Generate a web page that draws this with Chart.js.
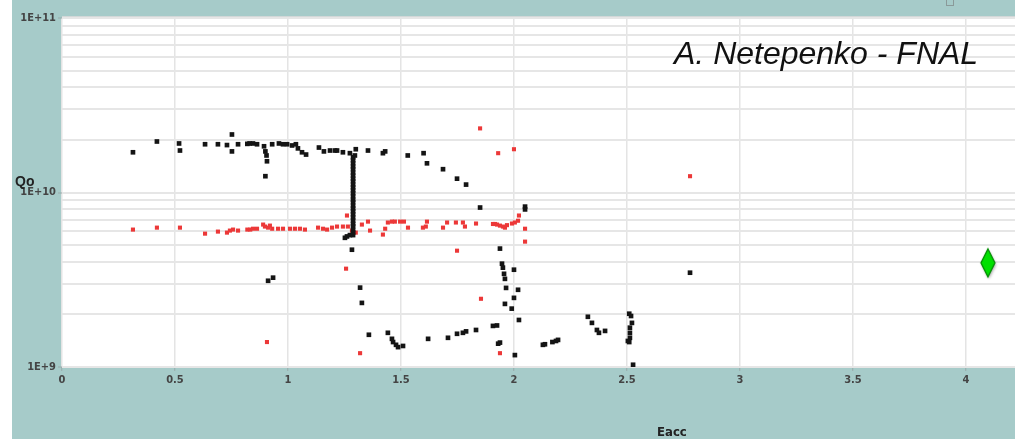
<!DOCTYPE html>
<html>
<head>
<meta charset="utf-8">
<script src="https://cdn.jsdelivr.net/npm/chart.js@4"></script>
<style>
  body { margin: 0; background: #fff; }
  #wrap { width: 1015px; height: 439px; }
</style>
</head>
<body>
<div id="wrap"><canvas id="qChart" width="1015" height="439"></canvas></div>
<script>
// Black series (Eacc, Qo)
const blackEacc = [
  0.314, 0.420, 0.518, 0.522, 0.633, 0.690, 0.730, 0.752, 0.752, 0.779,
  0.820, 0.830, 0.845, 0.863, 0.894, 0.900, 0.905, 0.907, 0.900, 0.930,
  0.960, 0.978, 0.996, 1.018, 1.035, 1.044, 1.062, 1.080, 1.137, 1.159,
  1.186, 1.208, 1.217, 1.243, 1.274, 1.296, 1.300,
  1.288, 1.288, 1.288, 1.288, 1.288, 1.288, 1.288, 1.288, 1.288, 1.288,
  1.288, 1.288, 1.288, 1.288, 1.288, 1.288, 1.288, 1.288, 1.288, 1.288,
  1.288, 1.288, 1.288, 1.288, 1.288, 1.288, 1.288,
  1.252, 1.261, 1.274, 1.283, 1.354, 1.420, 1.430, 1.530, 1.600, 1.615,
  1.686, 1.748, 1.788, 1.850, 2.049, 2.049, 1.938, 1.947, 1.951, 1.956,
  1.960, 1.965, 1.960, 1.990, 2.000, 2.000, 2.018, 2.022, 2.004, 1.930,
  1.938, 1.907, 1.925, 1.832, 1.774, 1.788, 1.748, 1.708, 1.620, 1.509,
  1.487, 1.478, 1.465, 1.460, 1.442, 1.358, 1.327, 1.319, 2.128, 2.137,
  2.170, 2.186, 2.195, 2.327, 2.345, 2.367, 2.376, 2.403, 2.510, 2.518,
  2.522, 2.513, 2.513, 2.513, 2.504, 2.510, 2.527, 2.779, 0.912, 0.934
];
const blackQo = [
  1.70e10, 1.96e10, 1.91e10, 1.74e10, 1.89e10, 1.89e10, 1.87e10, 2.15e10, 1.72e10, 1.89e10,
  1.90e10, 1.91e10, 1.91e10, 1.89e10, 1.84e10, 1.72e10, 1.63e10, 1.51e10, 1.24e10, 1.89e10,
  1.91e10, 1.89e10, 1.89e10, 1.86e10, 1.89e10, 1.79e10, 1.70e10, 1.65e10, 1.81e10, 1.72e10,
  1.74e10, 1.74e10, 1.74e10, 1.70e10, 1.68e10, 1.63e10, 1.77e10,
  1.59e10, 1.53e10, 1.47e10, 1.41e10, 1.36e10, 1.30e10, 1.25e10, 1.20e10, 1.16e10, 1.11e10,
  1.07e10, 1.03e10, 9.9e9, 9.5e9, 9.1e9, 8.8e9, 8.4e9, 8.1e9, 7.8e9, 7.5e9,
  7.2e9, 6.9e9, 6.6e9, 6.4e9, 6.1e9, 5.9e9, 5.7e9,
  5.5e9, 5.6e9, 5.7e9, 4.7e9, 1.74e10, 1.68e10, 1.72e10, 1.63e10, 1.68e10, 1.47e10,
  1.36e10, 1.20e10, 1.11e10, 8.2e9, 8.3e9, 8.0e9, 4.77e9, 3.91e9, 3.71e9, 3.42e9,
  3.20e9, 2.84e9, 2.30e9, 2.16e9, 3.61e9, 2.49e9, 2.77e9, 1.86e9, 1.17e9, 1.36e9,
  1.38e9, 1.72e9, 1.73e9, 1.63e9, 1.57e9, 1.60e9, 1.55e9, 1.47e9, 1.45e9, 1.32e9,
  1.30e9, 1.34e9, 1.39e9, 1.45e9, 1.57e9, 1.53e9, 2.33e9, 2.85e9, 1.34e9, 1.35e9,
  1.39e9, 1.41e9, 1.43e9, 1.94e9, 1.79e9, 1.63e9, 1.57e9, 1.61e9, 2.02e9, 1.96e9,
  1.79e9, 1.68e9, 1.57e9, 1.47e9, 1.41e9, 1.39e9, 1.03e9, 3.47e9, 3.12e9, 3.25e9
];

// Red series (Eacc, Qo)
const redEacc = [
  0.314, 0.420, 0.522, 0.633, 0.690, 0.730, 0.743, 0.757, 0.779, 0.820,
  0.833, 0.845, 0.863, 0.890, 0.898, 0.912, 0.920, 0.930, 0.956, 0.978,
  1.009, 1.031, 1.053, 1.075, 1.133, 1.155, 1.173, 1.195, 1.217, 1.243,
  1.265, 1.261, 1.283, 1.300, 1.327, 1.354, 1.363, 1.420, 1.430, 1.442,
  1.460, 1.473, 1.496, 1.513, 1.531, 1.597, 1.610, 1.615, 1.686, 1.704,
  1.743, 1.774, 1.783, 1.832, 1.907, 1.916, 1.925, 1.938, 1.951, 1.960,
  1.969, 1.991, 2.004, 2.018, 2.022, 2.049, 2.049, 1.748, 1.257, 1.319,
  0.907, 1.850, 1.930, 2.000, 1.854, 1.938, 2.779
];
const redQo = [
  6.13e9, 6.29e9, 6.29e9, 5.81e9, 5.97e9, 5.89e9, 6.05e9, 6.13e9, 6.05e9, 6.13e9,
  6.13e9, 6.20e9, 6.20e9, 6.55e9, 6.38e9, 6.29e9, 6.46e9, 6.20e9, 6.20e9, 6.20e9,
  6.20e9, 6.20e9, 6.20e9, 6.13e9, 6.29e9, 6.20e9, 6.13e9, 6.29e9, 6.38e9, 6.38e9,
  6.38e9, 7.38e9, 6.05e9, 5.89e9, 6.55e9, 6.81e9, 6.05e9, 5.74e9, 6.20e9, 6.73e9,
  6.81e9, 6.81e9, 6.81e9, 6.81e9, 6.29e9, 6.29e9, 6.38e9, 6.81e9, 6.29e9, 6.73e9,
  6.73e9, 6.73e9, 6.38e9, 6.64e9, 6.60e9, 6.60e9, 6.55e9, 6.46e9, 6.38e9, 6.29e9,
  6.50e9, 6.64e9, 6.73e9, 6.89e9, 7.38e9, 6.20e9, 5.23e9, 4.64e9, 3.66e9, 1.20e9,
  1.39e9, 2.33e10, 1.68e10, 1.77e10, 2.46e9, 1.20e9, 1.24e10
];

// Green marker
const markerEacc = [4.097];
const markerQo = [3.9e9];

// Axis ticks
const xTickValues = [0, 0.5, 1, 1.5, 2, 2.5, 3, 3.5, 4];
const xTickLabels = ['0', '0.5', '1', '1.5', '2', '2.5', '3', '3.5', '4'];
const yTickValues = [1e9, 1e10, 1e11];
const yTickLabels = ['1E+9', '1E+10', '1E+11'];

const TEAL = '#a6cbc9';
const tickFont = { family: "'Liberation Sans Narrow', 'DejaVu Sans Condensed', sans-serif", size: 11, weight: 'bold' };

function toPoints(xs, ys) {
  return xs.map((x, i) => ({ x: x, y: ys[i] }));
}

// every decade gets lines at 1..9
function yGridValues() {
  const vals = [];
  for (let d = 0; d < yTickValues.length - 1; d++) {
    for (let m = 1; m <= 9; m++) vals.push(m * yTickValues[d]);
  }
  vals.push(yTickValues[yTickValues.length - 1]);
  return vals;
}

// tall green diamond
function makeDiamond() {
  const c = document.createElement('canvas');
  c.width = 22;
  c.height = 36;
  const g = c.getContext('2d');
  g.shadowColor = 'rgba(0,0,0,0.35)';
  g.shadowBlur = 3;
  g.shadowOffsetX = 1;
  g.shadowOffsetY = 2;
  g.beginPath();
  g.moveTo(11, 3);
  g.lineTo(18, 17);
  g.lineTo(11, 31);
  g.lineTo(4, 17);
  g.closePath();
  g.fillStyle = '#00e000';
  g.fill();
  g.shadowColor = 'transparent';
  g.lineWidth = 1.3;
  g.strokeStyle = '#008c00';
  g.stroke();
  return c;
}

const decorPlugin = {
  id: 'decor',
  beforeDraw(chart) {
    const { ctx, chartArea: a, width, height } = chart;
    ctx.save();
    ctx.fillStyle = '#ffffff';
    ctx.fillRect(0, 0, width, height);
    ctx.fillStyle = TEAL;
    ctx.fillRect(12, 0, width - 12, height);
    ctx.fillStyle = '#ffffff';
    ctx.fillRect(a.left, a.top - 2, a.right - a.left, a.bottom - a.top + 2);
    ctx.fillStyle = '#d2d8d8';
    ctx.fillRect(a.left, a.top - 2, a.right - a.left, 1);
    // cut-off checkbox in the top right corner
    ctx.strokeStyle = '#8a9a99';
    ctx.lineWidth = 1;
    ctx.strokeRect(946.5, -3.5, 7, 9);
    ctx.restore();
  },
  afterDraw(chart) {
    const { ctx } = chart;
    ctx.save();
    ctx.fillStyle = '#111';
    ctx.font = "italic 32px 'Liberation Sans', Arial, sans-serif";
    ctx.textBaseline = 'alphabetic';
    ctx.fillText('A. Netepenko - FNAL', 674, 64);
    ctx.fillStyle = '#222';
    ctx.font = "bold 14px 'Liberation Sans', Arial, sans-serif";
    ctx.fillText('Qo', 15, 186);
    ctx.font = "bold 13px 'Liberation Sans Narrow', 'DejaVu Sans Condensed', sans-serif";
    ctx.fillText('Eacc', 657, 436);
    ctx.restore();
  }
};

new Chart(document.getElementById('qChart'), {
  type: 'scatter',
  data: {
    datasets: [
      {
        label: 'black',
        data: toPoints(blackEacc, blackQo),
        pointStyle: 'rect',
        pointRadius: 3.3,
        pointBorderWidth: 0,
        backgroundColor: '#141414',
        borderColor: '#141414'
      },
      {
        label: 'red',
        data: toPoints(redEacc, redQo),
        pointStyle: 'rect',
        pointRadius: 2.9,
        pointBorderWidth: 0,
        backgroundColor: '#ec3838',
        borderColor: '#ec3838'
      },
      {
        label: 'marker',
        data: toPoints(markerEacc, markerQo),
        pointStyle: makeDiamond(),
        pointRadius: 10,
        backgroundColor: '#00e000',
        borderColor: '#008c00'
      }
    ]
  },
  options: {
    responsive: false,
    animation: false,
    layout: { autoPadding: false, padding: { left: 13, top: 18, right: 0, bottom: 0 } },
    plugins: {
      legend: { display: false },
      tooltip: { enabled: false }
    },
    scales: {
      x: {
        type: 'linear',
        min: 0,
        max: 4.217,
        afterFit: (scale) => { scale.height = 72; },
        afterBuildTicks: (scale) => { scale.ticks = xTickValues.map(v => ({ value: v })); },
        border: { display: false },
        grid: {
          color: '#e4e4e4',
          lineWidth: 1.5,
          tickLength: 4,
          tickColor: '#9aa',
          tickWidth: 1
        },
        ticks: {
          autoSkip: false,
          maxRotation: 0,
          padding: 3,
          color: '#444',
          font: tickFont,
          callback: (v) => {
            const i = xTickValues.indexOf(v);
            return i >= 0 ? xTickLabels[i] : '';
          }
        }
      },
      y: {
        type: 'logarithmic',
        min: 1e9,
        max: 1e11,
        afterFit: (scale) => { scale.width = 49; },
        afterBuildTicks: (scale) => { scale.ticks = yGridValues().map(v => ({ value: v })); },
        border: { display: false },
        grid: {
          color: '#e6e6e6',
          lineWidth: 2,
          tickLength: 4,
          tickWidth: 1,
          tickColor: (c) => (c.tick && yTickValues.indexOf(c.tick.value) >= 0 ? '#9aa' : 'rgba(0,0,0,0)')
        },
        ticks: {
          autoSkip: false,
          padding: 2,
          color: '#444',
          font: tickFont,
          callback: (v) => {
            const i = yTickValues.indexOf(v);
            return i >= 0 ? yTickLabels[i] : '';
          }
        }
      }
    }
  },
  plugins: [decorPlugin]
});
</script>
</body>
</html>
